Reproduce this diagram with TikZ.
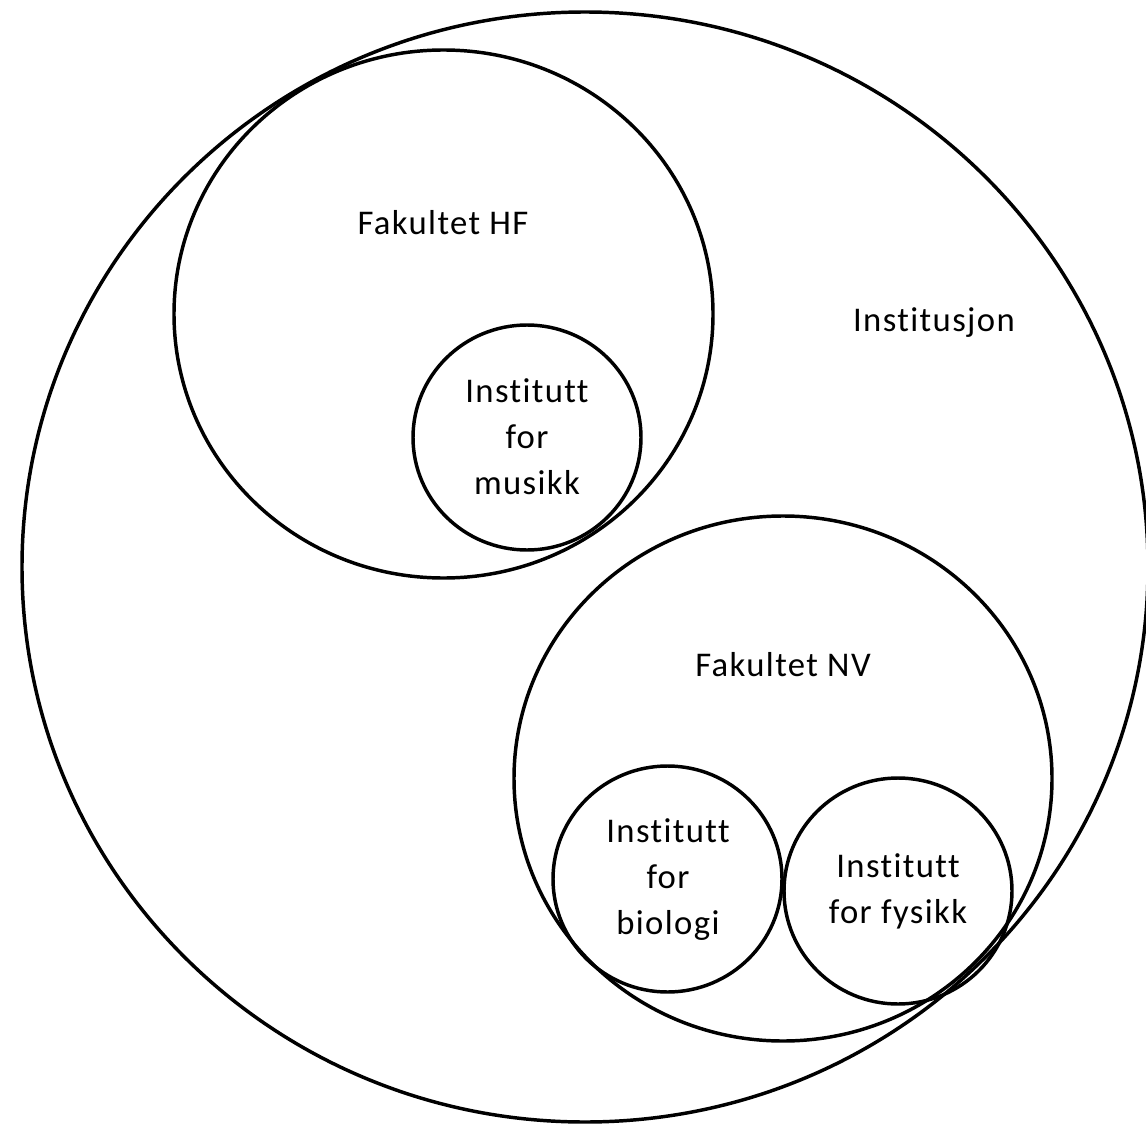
\documentclass[tikz,border=0pt]{standalone}
\usepackage{fontspec}
\setmainfont{Carlito}[LetterSpace=4,Ligatures={NoCommon}]
\usetikzlibrary{shapes.geometric}
\begin{document}
\begin{tikzpicture}[x=0.75pt,y=-0.75pt,
  ring/.style={ellipse,draw,line width=2.6pt,inner sep=0pt,outer sep=0pt},
  lbl/.style={align=center,inner sep=0pt,font=\fontsize{26}{34.5}\selectfont}]
\useasboundingbox (0,0) rectangle (1146,1127);
% organisational units as nested rings
\node[ring,minimum width=1126*0.75pt,minimum height=1110*0.75pt] (inst) at (585,567) {};
\node[ring,minimum width=539*0.75pt,minimum height=528*0.75pt] (hf) at (443.5,314) {};
\node[ring,minimum width=228*0.75pt,minimum height=225*0.75pt] (mus) at (527,437.5) {};
\node[ring,minimum width=538*0.75pt,minimum height=525*0.75pt] (nv) at (783,778.5) {};
\node[ring,minimum width=229*0.75pt,minimum height=226*0.75pt] (bio) at (667.5,879) {};
\node[ring,minimum width=228*0.75pt,minimum height=226*0.75pt] (fys) at (898,891) {};
% names
\node[lbl] (tinst) at (934,323) {Institusjon};
\node[lbl] (thf) at (443,223) {Fakultet HF};
\node[lbl] (tmus) at (527,437) {Institutt\\for\\musikk};
\node[lbl] (tnv) at (783,665) {Fakultet NV};
\node[lbl] (tbio) at (668,880) {Institutt\\for\\biologi};
\node[lbl] (tfys) at (898,891) {Institutt\\for fysikk};
\end{tikzpicture}
\end{document}
